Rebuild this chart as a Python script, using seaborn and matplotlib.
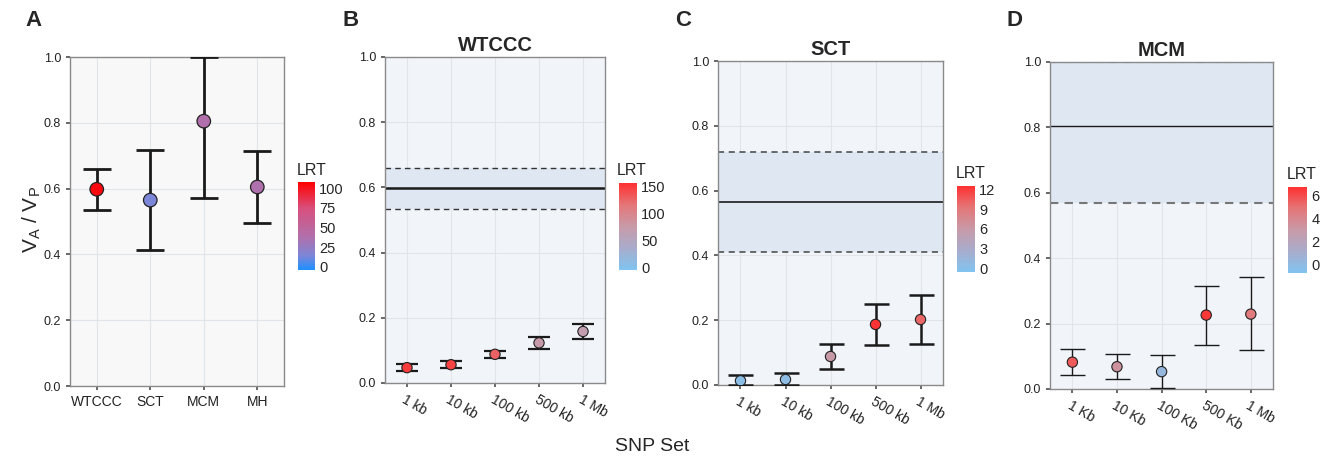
import numpy as np
import pandas as pd
import matplotlib
matplotlib.use("Agg")
import matplotlib.pyplot as plt
import seaborn as sns
from matplotlib.colors import LinearSegmentedColormap, Normalize
from matplotlib.cm import ScalarMappable

# --- data ---
cohorts = ["WTCCC", "SCT", "MCM", "MH"]
cohort_est = [0.598, 0.565, 0.805, 0.605]
cohort_lo = [0.535, 0.412, 0.570, 0.495]
cohort_hi = [0.660, 0.718, 1.000, 0.715]
cohort_lrt = [104, 14, 38, 37]

windows_kb = ["1 kb", "10 kb", "100 kb", "500 kb", "1 Mb"]
windows_Kb = ["1 Kb", "10 Kb", "100 Kb", "500 Kb", "1 Mb"]

wtccc_est = [0.047, 0.056, 0.088, 0.123, 0.158]
wtccc_lo = [0.037, 0.047, 0.078, 0.105, 0.135]
wtccc_hi = [0.057, 0.066, 0.099, 0.140, 0.182]
wtccc_lrt = [150, 146, 128, 75, 68]

sct_est = [0.013, 0.017, 0.088, 0.187, 0.202]
sct_lo = [0.000, 0.000, 0.050, 0.124, 0.127]
sct_hi = [0.032, 0.038, 0.128, 0.249, 0.278]
sct_lrt = [0.4, 0.6, 6.0, 12.3, 10.0]

mcm_est = [0.082, 0.068, 0.053, 0.226, 0.229]
mcm_lo = [0.042, 0.030, 0.002, 0.135, 0.118]
mcm_hi = [0.122, 0.107, 0.105, 0.316, 0.341]
mcm_lrt = [5.6, 3.4, 0.3, 6.5, 4.6]

cmap_a = LinearSegmentedColormap.from_list(
    "lrt_a", [(0.0, "#1E90FF"), (0.16, "#7C86D8"), (0.37, "#B070AC"),
              (0.70, "#D8507E"), (1.0, "#FF0000")])
cmap_b = LinearSegmentedColormap.from_list(
    "lrt_b", ["#80C4F0", "#A8ACCC", "#C89AA8", "#E47678", "#FF3030"])

sns.set_theme(style="ticks")
plt.rcParams["font.family"] = ["Liberation Sans", "DejaVu Sans"]

fig = plt.figure(figsize=(13.23, 4.58), dpi=100)


def style_axes(ax, face):
    ax.set_facecolor(face)
    ax.set_ylim(0, 1)
    ax.set_yticks([0, 0.2, 0.4, 0.6, 0.8, 1.0])
    ax.set_yticklabels(["0.0", "0.2", "0.4", "0.6", "0.8", "1.0"])
    ax.grid(True, color="#E1E4E8", lw=0.8)
    ax.set_axisbelow(True)
    for s in ax.spines.values():
        s.set_color("#8A8A8A")
        s.set_linewidth(1.0)
    ax.tick_params(axis="both", color="#555555", length=3, labelsize=9,
                   labelcolor="#222222")
    ax.set_xlabel("")
    ax.set_ylabel("")


def add_cbar(rect, cmap, vmin, vmax, ticks, label_xy):
    cax = fig.add_axes(rect)
    sm = ScalarMappable(norm=Normalize(vmin, vmax), cmap=cmap)
    cb = fig.colorbar(sm, cax=cax, ticks=ticks)
    cb.outline.set_visible(False)
    cax.tick_params(left=True, right=True, direction="in", color="white",
                    length=3, width=1, labelsize=10.5, pad=3)
    cax.tick_params(axis="y", which="major", labelleft=False, labelright=True)
    fig.text(label_xy[0], label_xy[1], "LRT", fontsize=11.5, ha="left", va="bottom")


def panel_windows(rect, labels, est, lo, hi, lrt, cmap, vmin, vmax, band,
                  title, s, lw, cap, band_lw, dash_color, dash_lw):
    ax = fig.add_axes(rect)
    style_axes(ax, "#F1F4F9")
    ax.axhspan(band[0], band[2], color="#DEE7F2", lw=0, zorder=1)
    ax.axhline(band[1], color="#1A1A1A", lw=band_lw, zorder=2)
    ax.axhline(band[0], color=dash_color, lw=dash_lw, ls=(0, (4, 3)), zorder=2)
    ax.axhline(band[2], color=dash_color, lw=dash_lw, ls=(0, (4, 3)), zorder=2)
    df = pd.DataFrame({"snp": labels, "est": est, "lo": lo, "hi": hi, "lrt": lrt})
    ax.errorbar(df["snp"], df["est"],
                yerr=[df["est"] - df["lo"], df["hi"] - df["est"]],
                fmt="none", ecolor="#1A1A1A", elinewidth=lw, capsize=cap,
                capthick=lw, zorder=3)
    sns.scatterplot(data=df, x="snp", y="est", hue="lrt", palette=cmap,
                    hue_norm=(vmin, vmax), s=s, edgecolor="#222222",
                    linewidth=0.8, legend=False, zorder=4, ax=ax)
    ax.set_xlim(-0.5, len(labels) - 0.5)
    ax.set_ylim(0, 1)
    ax.set_xlabel("")
    ax.set_ylabel("")
    for t in ax.get_xticklabels():
        t.set_rotation(-30)
        t.set_ha("left")
        t.set_rotation_mode("anchor")
        t.set_fontsize(10)
    ax.set_title(title, fontsize=14.5, fontweight="bold", pad=4)
    return ax


# --- Panel A ---
axA = fig.add_axes([0.0529, 0.1572, 0.1618, 0.7183])
style_axes(axA, "#F7F8F7")
dfA = pd.DataFrame({"cohort": cohorts, "est": cohort_est, "lo": cohort_lo,
                    "hi": cohort_hi, "lrt": cohort_lrt})
axA.errorbar(dfA["cohort"], dfA["est"],
             yerr=[dfA["est"] - dfA["lo"], dfA["hi"] - dfA["est"]],
             fmt="none", ecolor="#1A1A1A", elinewidth=2, capsize=10, capthick=2,
             zorder=3, clip_on=True)
sns.scatterplot(data=dfA, x="cohort", y="est", hue="lrt", palette=cmap_a,
                hue_norm=(-4, 108), s=95, edgecolor="#222222", linewidth=0.9,
                legend=False, zorder=4, ax=axA)
axA.set_xlim(-0.5, 3.5)
axA.set_ylim(0, 1)
axA.set_xlabel("")
axA.set_ylabel("")
for t in axA.get_xticklabels():
    t.set_fontsize(10)
add_cbar([0.2252, 0.4105, 0.0128, 0.1921], cmap_a, -4, 108,
         [0, 25, 50, 75, 100], (0.2245, 0.612))

# --- Panels B, C, D ---
panel_windows([0.2910, 0.1638, 0.1663, 0.7118], windows_kb, wtccc_est, wtccc_lo,
              wtccc_hi, wtccc_lrt, cmap_b, -5, 157,
              (cohort_lo[0], cohort_est[0], cohort_hi[0]), "WTCCC",
              s=55, lw=1.6, cap=8, band_lw=1.8, dash_color="#333333", dash_lw=1.0)
add_cbar([0.4679, 0.4105, 0.0136, 0.19], cmap_b, -5, 157,
         [0, 50, 100, 150], (0.4665, 0.612))

panel_windows([0.5427, 0.1594, 0.1701, 0.7074], windows_kb, sct_est, sct_lo,
              sct_hi, sct_lrt, cmap_b, -0.5, 12.5,
              (cohort_lo[1], cohort_est[1], cohort_hi[1]), "SCT",
              s=55, lw=1.8, cap=9, band_lw=1.2, dash_color="#444444", dash_lw=1.1)
add_cbar([0.7234, 0.4061, 0.0136, 0.1878], cmap_b, -0.5, 12.5,
         [0, 3, 6, 9, 12], (0.7225, 0.605))

panel_windows([0.7937, 0.1507, 0.1686, 0.7140], windows_Kb, mcm_est, mcm_lo,
              mcm_hi, mcm_lrt, cmap_b, -0.7, 6.7,
              (cohort_lo[2], cohort_est[2], cohort_hi[2]), "MCM",
              s=55, lw=1.0, cap=9, band_lw=1.0, dash_color="#777777", dash_lw=1.5)
add_cbar([0.9735, 0.4039, 0.0144, 0.1878], cmap_b, -0.7, 6.7,
         [0, 2, 4, 6], (0.9725, 0.603))

# --- labels ---
for letter, x in zip(["A", "B", "C", "D"], [0.019, 0.259, 0.510, 0.761]):
    fig.text(x, 0.955, letter, fontsize=16, fontweight="bold", ha="left", va="center")

fig.text(0.024, 0.52, r"V$_\mathregular{A}$ / V$_\mathregular{P}$", fontsize=15,
         rotation=90, ha="center", va="center")
fig.text(0.493, 0.025, "SNP Set", fontsize=14, ha="center", va="center")

fig.savefig("out.png", dpi=100)
